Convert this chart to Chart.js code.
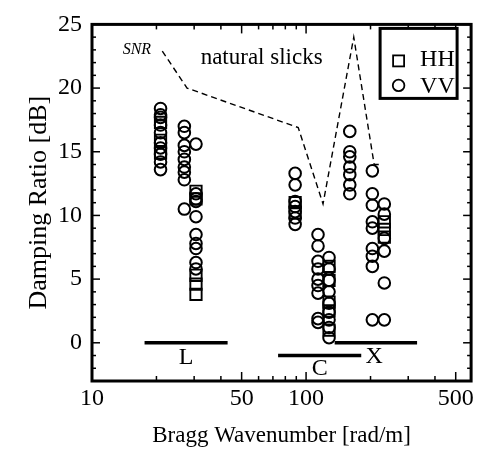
<!DOCTYPE html>
<html>
<head>
<meta charset="utf-8">
<script src="https://cdn.jsdelivr.net/npm/chart.js@4"></script>
<style>
  html, body { margin: 0; padding: 0; background: #fff; }
</style>
</head>
<body>
<canvas id="grafico" width="481" height="451"></canvas>
<script>
// ===== Datos =====
const xTicks = [10, 50, 100, 500];
const xMinor = [20, 30, 40, 60, 70, 80, 90, 200, 300, 400];
const yTicks = [0, 5, 10, 15, 20, 25];
const yMinor = [-2, -1, 1, 2, 3, 4, 6, 7, 8, 9, 11, 12, 13, 14, 16, 17, 18, 19, 21, 22, 23, 24];

// VV: columnas de numero de onda y sus razones de amortiguamiento
const vvColumns = [20.9, 27.0, 30.6, 88.9, 113.7, 128, 160, 204, 232];
const vvDamping = [
  [18.4, 17.9, 17.7, 17.1, 16.5, 15.7, 15.3, 14.8, 14.2, 13.6],
  [17.0, 16.5, 15.5, 15.0, 14.4, 13.8, 13.4, 12.8, 10.5],
  [15.6, 11.7, 11.3, 11.1, 9.9, 8.5, 7.8, 7.4, 6.3, 5.8],
  [13.3, 12.4, 11.1, 10.7, 10.3, 9.8, 9.3],
  [8.5, 7.6, 6.4, 5.8, 5.0, 4.5, 3.9, 1.9, 1.6],
  [6.7, 5.8, 4.9, 4.0, 3.1, 2.4, 1.8, 1.2, 0.4],
  [16.6, 15.0, 14.6, 13.8, 13.2, 12.4, 11.7],
  [13.5, 11.7, 10.8, 9.5, 9.0, 7.4, 6.8, 6.0, 1.8],
  [10.9, 10.1, 8.2, 7.2, 4.7, 1.8]
];

// HH
const hhColumns = [20.9, 30.6, 88.9, 128, 232];
const hhDamping = [
  [17.3, 15.9, 14.9],
  [11.9, 11.3, 5.3, 4.6, 3.8],
  [11.0, 10.2],
  [6.0, 4.9, 3.2, 2.5, 1.0],
  [9.5, 8.9, 8.3]
];

// SNR (linea discontinua)
const snrK = [21.3, 27.8, 91.9, 120, 167, 208, 222];
const snrDb = [22.9, 20.0, 16.9, 10.9, 24.0, 14.0, 14.0];

// Bandas L, C, X
const bandNames = ["L", "C", "X"];
const bandStart = [17.6, 74, 136];
const bandEnd = [43, 181, 330];
const bandDb = [0, -1, 0];
const bandLabelK = [27.5, 116, 208];
const bandLabelDb = [-1.2, -2.0, -1.1];

// ===== Grafico =====
const FUENTE = '"Liberation Serif", "DejaVu Serif", serif';

function puntos(columnas, valores) {
  const salida = [];
  columnas.forEach((k, i) => valores[i].forEach((v) => salida.push({ x: k, y: v })));
  return salida;
}

const bandas = bandNames.map((n, i) => ({
  label: n,
  data: [{ x: bandStart[i], y: bandDb[i] }, { x: bandEnd[i], y: bandDb[i] }],
  showLine: true,
  borderColor: "#000",
  borderWidth: 3.5,
  pointRadius: 0,
}));

const marcoPlugin = {
  id: "marco",
  afterDatasetsDraw(chart) {
    const { ctx, chartArea: a, scales } = chart;
    const x = scales.x, y = scales.y;
    ctx.save();
    ctx.strokeStyle = "#000";
    ctx.fillStyle = "#000";

    const linea = (x1, y1, x2, y2) => {
      ctx.beginPath();
      ctx.moveTo(x1, y1);
      ctx.lineTo(x2, y2);
      ctx.stroke();
    };

    // marcas hacia dentro
    ctx.lineWidth = 1.5;
    const marcasX = (vals, len) => vals.forEach((v) => {
      const p = x.getPixelForValue(v);
      linea(p, a.bottom, p, a.bottom - len);
      linea(p, a.top, p, a.top + len);
    });
    const marcasY = (vals, len) => vals.forEach((v) => {
      const p = y.getPixelForValue(v);
      linea(a.left, p, a.left + len, p);
      linea(a.right, p, a.right - len, p);
    });
    marcasX(xTicks, 9);
    marcasX(xMinor, 5);
    marcasY(yTicks, 8);
    marcasY(yMinor, 4);

    // marco
    ctx.lineWidth = 3;
    ctx.strokeRect(a.left, a.top, a.width, a.height);

    // textos
    ctx.textAlign = "center";
    ctx.textBaseline = "middle";
    ctx.font = "24px " + FUENTE;
    bandNames.forEach((n, i) => {
      ctx.fillText(n, x.getPixelForValue(bandLabelK[i]), y.getPixelForValue(bandLabelDb[i]));
    });
    ctx.font = "23px " + FUENTE;
    ctx.fillText("natural slicks", x.getPixelForValue(62), y.getPixelForValue(22.4));
    ctx.font = "italic 16px " + FUENTE;
    ctx.fillText("SNR", x.getPixelForValue(16.2), y.getPixelForValue(23.0));

    // leyenda
    const lx = a.right - 91, ly = a.top + 4;
    ctx.fillStyle = "#fff";
    ctx.fillRect(lx, ly, 77, 70);
    ctx.lineWidth = 3;
    ctx.strokeRect(lx, ly, 77, 70);
    ctx.lineWidth = 1.8;
    ctx.strokeRect(lx + 13, ly + 27, 11, 11);
    ctx.beginPath();
    ctx.arc(lx + 18.5, ly + 57, 5.8, 0, Math.PI * 2);
    ctx.stroke();
    ctx.fillStyle = "#000";
    ctx.textAlign = "left";
    ctx.font = "24px " + FUENTE;
    ctx.fillText("HH", lx + 40, ly + 31);
    ctx.fillText("VV", lx + 40, ly + 58);
    ctx.restore();
  },
};

new Chart(document.getElementById("grafico"), {
  type: "scatter",
  data: {
    datasets: [
      {
        label: "SNR",
        data: snrK.map((k, i) => ({ x: k, y: snrDb[i] })),
        showLine: true,
        borderColor: "#000",
        borderWidth: 1.4,
        borderDash: [6, 4],
        pointRadius: 0,
      },
      ...bandas,
      {
        label: "HH",
        data: puntos(hhColumns, hhDamping),
        pointStyle: "rect",
        pointRadius: 8,
        borderColor: "#000",
        borderWidth: 1.9,
        backgroundColor: "rgba(0,0,0,0)",
      },
      {
        label: "VV",
        data: puntos(vvColumns, vvDamping),
        pointStyle: "circle",
        pointRadius: 5.8,
        borderColor: "#000",
        borderWidth: 2,
        backgroundColor: "rgba(0,0,0,0)",
      },
    ],
  },
  options: {
    responsive: false,
    animation: false,
    layout: { padding: { top: 21, right: 7, left: 0, bottom: 0 } },
    plugins: { legend: { display: false }, tooltip: { enabled: false } },
    scales: {
      x: {
        type: "logarithmic",
        min: 10,
        max: 590,
        grid: { display: false, drawTicks: false },
        border: { display: false },
        afterBuildTicks: (s) => { s.ticks = xTicks.map((v) => ({ value: v })); },
        afterFit: (s) => { s.height = 70; },
        ticks: {
          color: "#000",
          padding: 3,
          maxRotation: 0,
          autoSkip: false,
          font: { family: FUENTE, size: 24 },
          callback: (v) => String(v),
        },
        title: {
          display: true,
          text: "Bragg Wavenumber [rad/m]",
          color: "#000",
          font: { family: FUENTE, size: 23 },
          padding: { top: 0, bottom: 1 },
        },
      },
      y: {
        min: -3,
        max: 25,
        grid: { display: false, drawTicks: false },
        border: { display: false },
        afterBuildTicks: (s) => { s.ticks = yTicks.map((v) => ({ value: v })); },
        afterFit: (s) => { s.width = 92; },
        ticks: {
          color: "#000",
          padding: 10,
          font: { family: FUENTE, size: 24 },
        },
        title: {
          display: true,
          text: "Damping Ratio [dB]",
          color: "#000",
          font: { family: FUENTE, size: 26 },
          padding: { top: 24, bottom: 0 },
        },
      },
    },
  },
  plugins: [marcoPlugin],
});
</script>
</body>
</html>
